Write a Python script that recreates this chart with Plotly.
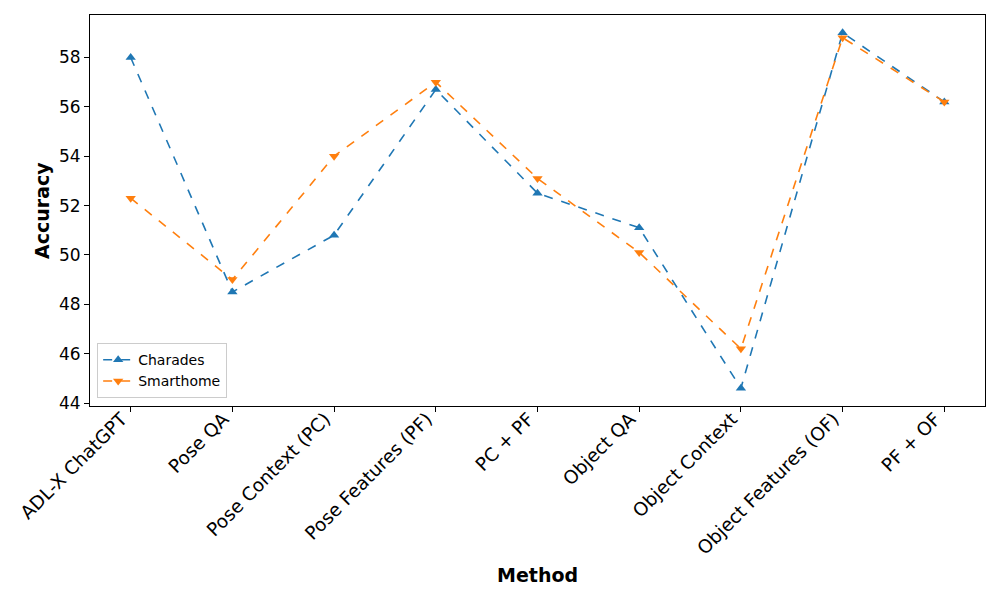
import plotly.graph_objects as go

methods = ["ADL-X ChatGPT", "Pose QA", "Pose Context (PC)", "Pose Features (PF)",
           "PC + PF", "Object QA", "Object Context", "Object Features (OF)", "PF + OF"]
charades = [58.0, 48.5, 50.8, 56.7, 52.5, 51.1, 44.6, 59.0, 56.2]
smarthome = [52.3, 49.0, 54.0, 57.0, 53.1, 50.1, 46.2, 58.8, 56.2]
yticks = [44, 46, 48, 50, 52, 54, 56, 58]

x_idx = list(range(len(methods)))

fig = go.Figure()
fig.add_trace(go.Scatter(
    x=x_idx, y=charades, name="Charades", mode="lines+markers",
    line=dict(color="#1f77b4", dash="dash", width=1.6),
    marker=dict(symbol="triangle-up", size=9, color="#1f77b4")))
fig.add_trace(go.Scatter(
    x=x_idx, y=smarthome, name="Smarthome", mode="lines+markers",
    line=dict(color="#ff7f0e", dash="dash", width=1.6),
    marker=dict(symbol="triangle-down", size=9, color="#ff7f0e")))

axis_common = dict(showline=True, mirror=True, linecolor="black", linewidth=1,
                   ticks="outside", ticklen=5, tickcolor="black", showgrid=False,
                   zeroline=False, automargin=False)

L, R, T, B = 90, 15, 15, 194
plot_w = 1000 - L - R
plot_h = 600 - T - B

fig.update_layout(
    width=1000, height=600, autosize=False,
    margin=dict(l=L, r=R, t=T, b=B, pad=0),
    paper_bgcolor="white", plot_bgcolor="white",
    font=dict(family="DejaVu Sans", color="black"),
    xaxis=dict(range=[-0.4, 8.4], tickmode="array", tickvals=x_idx, ticktext=methods,
               tickangle=-45, ticklabelstandoff=-11, ticklabelshift=-9,
               tickfont=dict(family="DejaVu Sans", size=18.5, color="black"),
               **axis_common),
    yaxis=dict(range=[43.88, 59.72], tickmode="array", tickvals=yticks,
               ticktext=[str(v) for v in yticks],
               tickfont=dict(family="DejaVu Sans", size=17, color="black"),
               **axis_common),
    legend=dict(x=0.008, y=0.02, xanchor="left", yanchor="bottom",
                bgcolor="rgba(255,255,255,0.8)", bordercolor="#cccccc", borderwidth=1,
                font=dict(family="DejaVu Sans", size=14), tracegroupgap=0,
                itemwidth=30),
    showlegend=True,
    annotations=[
        dict(text="<b>Method</b>", x=(537 - L) / plot_w, y=(600 - B - 575) / plot_h,
             xref="paper", yref="paper", xanchor="center", yanchor="middle",
             showarrow=False, font=dict(size=19, family="DejaVu Sans")),
        dict(text="<b>Accuracy</b>", x=(42 - L) / plot_w, y=(600 - B - 211) / plot_h,
             xref="paper", yref="paper", xanchor="center", yanchor="middle",
             showarrow=False, textangle=-90, font=dict(size=19, family="DejaVu Sans")),
    ],
)

fig.write_html("out.html", config={"displayModeBar": False},
               post_script="document.body.style.margin='0';document.body.style.padding='0';")
